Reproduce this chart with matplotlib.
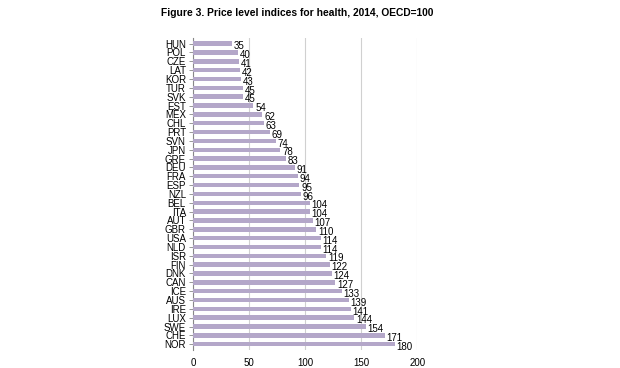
import matplotlib
matplotlib.use("Agg")
import matplotlib.pyplot as plt

countries = ['HUN', 'POL', 'CZE', 'LAT', 'KOR', 'TUR', 'SVK', 'EST', 'MEX', 'CHL',
             'PRT', 'SVN', 'JPN', 'GRE', 'DEU', 'FRA', 'ESP', 'NZL', 'BEL', 'ITA',
             'AUT', 'GBR', 'USA', 'NLD', 'ISR', 'FIN', 'DNK', 'CAN', 'ICE', 'AUS',
             'IRE', 'LUX', 'SWE', 'CHE', 'NOR']
values = [35, 40, 41, 42, 43, 45, 45, 54, 62, 63,
          69, 74, 78, 83, 91, 94, 95, 96, 104, 104,
          107, 110, 114, 114, 119, 122, 124, 127, 133, 139,
          141, 144, 154, 171, 180]
xticks = [0, 50, 100, 150, 200]

plt.rcParams['font.family'] = ['Liberation Sans', 'DejaVu Sans']

fig = plt.figure(figsize=(6.2, 3.68), dpi=100)
ax = fig.add_axes([0.311, 0.049, 0.362, 0.848])

pos = list(range(len(countries)))
ax.barh(pos, values, height=0.5, color='#b4a7c9', zorder=3)
for p, v in zip(pos, values):
    ax.text(v + 1.5, p + 0.3, str(v), fontsize=7, va='center', ha='left', zorder=4)

ax.set_ylim(len(countries) - 0.35, -0.65)
ax.set_xlim(0, 200)
ax.set_yticks(pos)
ax.set_yticklabels(countries, fontsize=7)
ax.set_xticks(xticks)
ax.set_xticklabels([str(t) for t in xticks], fontsize=7)
ax.tick_params(axis='y', length=3, width=0.6, pad=2, color='#888888')
ax.tick_params(axis='x', length=0, pad=6)
ax.grid(axis='x', color='#d0d0d0', linewidth=0.8, zorder=0)
for s in ['top', 'right', 'bottom']:
    ax.spines[s].set_visible(False)
ax.spines['left'].set_color('#888888')
ax.spines['left'].set_linewidth(0.8)

fig.text(0.26, 0.965, 'Figure 3. Price level indices for health, 2014, OECD=100',
         fontsize=7.4, fontweight='bold', ha='left', va='center')

fig.savefig('out.png', dpi=100)
